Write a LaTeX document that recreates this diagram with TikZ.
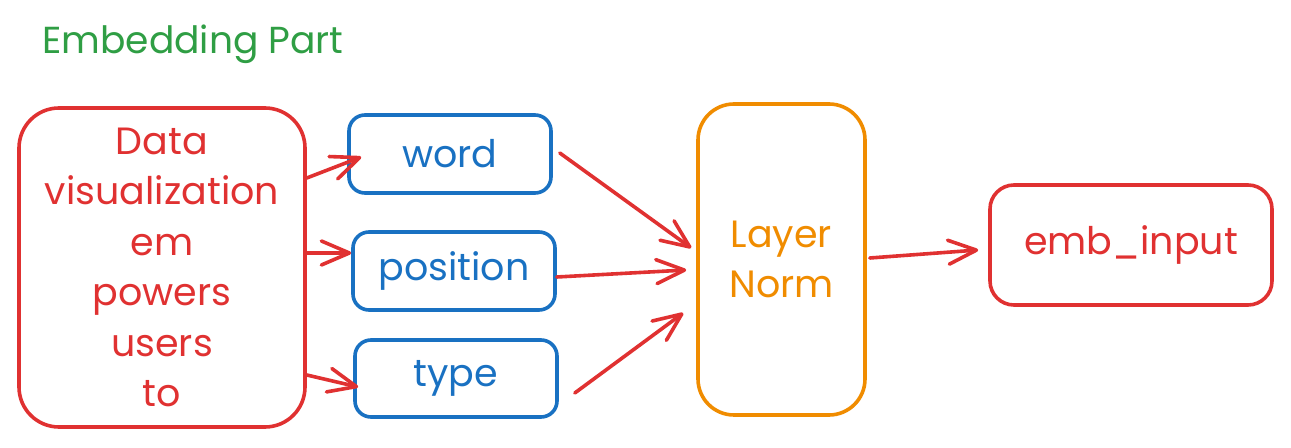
\documentclass[tikz,border=0pt]{standalone}
\usepackage{fontspec}
\setmainfont{Poppins}
\usetikzlibrary{arrows.meta,calc}
\definecolor{exred}{HTML}{E03131}
\definecolor{exblue}{HTML}{1971C2}
\definecolor{exorange}{HTML}{F08C00}
\definecolor{exgreen}{HTML}{2F9E44}
\tikzset{
  box/.style={draw, line width=1.8pt, rounded corners=#1, inner sep=0pt, align=center},
  boxtext/.style={font=\fontsize{19}{25.2}\selectfont},
  arr/.style={draw=exred, line width=1.8pt, line cap=round,
    -{Straight Barb[length=14pt,width=12pt,line width=1.8pt,round]}},
}
\begin{document}
\begin{tikzpicture}[x=0.5pt,y=-0.5pt]
\useasboundingbox (0,0) rectangle (1291,448);
\node[text=exgreen, font=\fontsize{18.8}{22}\selectfont] (title) at (193,44) {Embedding Part};
\node[box=20pt, boxtext, draw=exred, text=exred, minimum width=143pt, minimum height=159.5pt] (big) at (162,267.5)
  {Data\\visualization\\em\\powers\\users\\to};
\node[box=8pt, boxtext, draw=exblue, text=exblue, minimum width=101pt, minimum height=39pt] (word) at (450,154) {word};
\node[box=8pt, boxtext, draw=exblue, text=exblue, minimum width=101pt, minimum height=39pt] (position) at (454,271) {position};
\node[box=8pt, boxtext, draw=exblue, text=exblue, minimum width=101pt, minimum height=38.5pt] (type) at (456,378.5) {type};
\node[box=18pt, boxtext, draw=exorange, text=exorange, minimum width=83.5pt, minimum height=155.5pt] (ln) at (781.5,259.5) {Layer\\Norm};
\node[box=12pt, boxtext, draw=exred, text=exred, minimum width=141pt, minimum height=60pt] (emb) at (1131,245) {emb\_input};
\draw[arr] ($(big.east)+(0,-89.5)$) -- ($(word.west)+(14,3)$);
\draw[arr] ($(big.east)+(0,-14.5)$) -- ($(position.west)+(0,-18)$);
\draw[arr] ($(big.east)+(0,107.5)$) -- ($(type.west)+(5,8.5)$);
\draw[arr] ($(word.east)+(7,-1)$) -- ($(ln.west)+(-5,-11.5)$);
\draw[arr] ($(position.east)+(0,6)$) -- ($(ln.west)+(-10,10.5)$);
\draw[arr] ($(type.east)+(16,14.5)$) -- ($(ln.west)+(-13,53.5)$);
\draw[arr] ($(ln.east)+(3,-1.5)$) -- ($(emb.west)+(-10,5)$);
\end{tikzpicture}
\end{document}
